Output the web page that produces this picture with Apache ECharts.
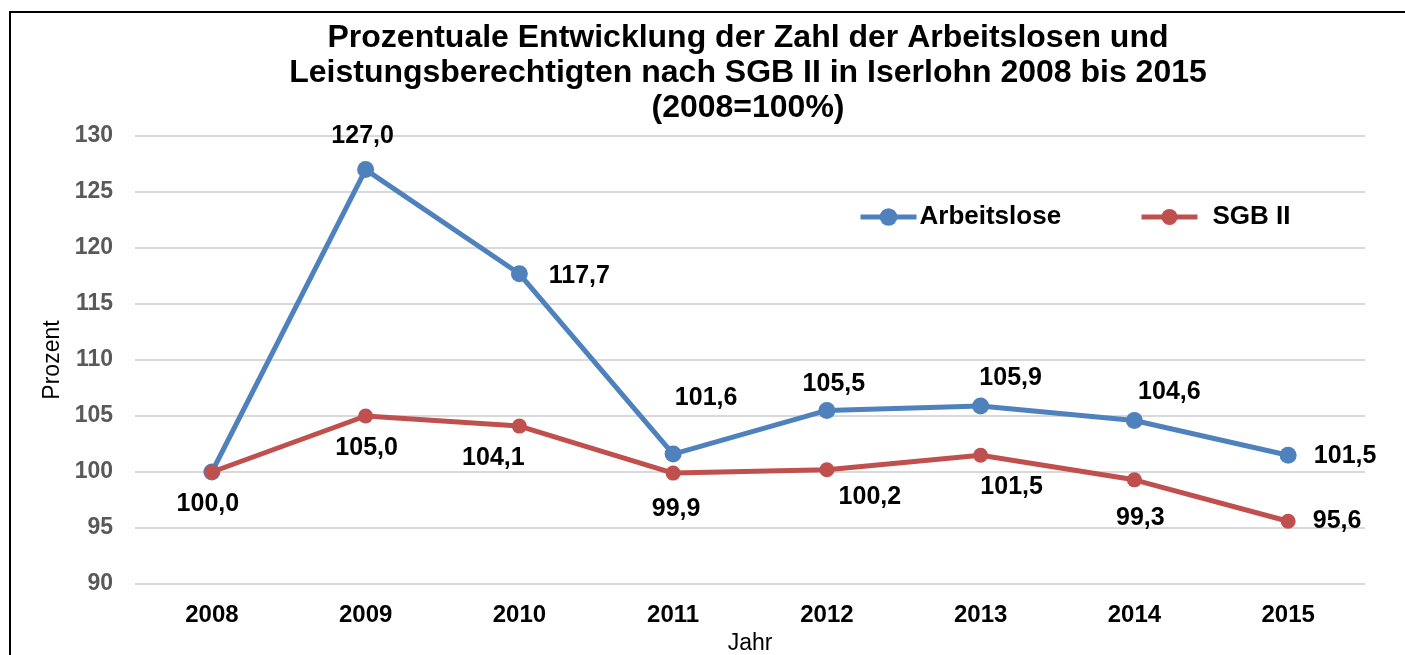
<!DOCTYPE html>
<html>
<head>
<meta charset="utf-8">
<script src="https://cdn.jsdelivr.net/npm/echarts@6/dist/echarts.min.js"></script>
<style>
  html, body { margin: 0; padding: 0; background: #fff; overflow: hidden; }
  #frame { position: absolute; left: 9px; top: 11px; width: 1500px; height: 700px; border: 2px solid #000; box-sizing: border-box; }
  #chart { position: absolute; left: 0; top: 0; width: 1405px; height: 655px; }
</style>
</head>
<body>
<div id="frame"></div>
<div id="chart"></div>
<script>
// Daten
const years = ['2008', '2009', '2010', '2011', '2012', '2013', '2014', '2015'];
const arbeitslose = [100.0, 127.0, 117.7, 101.6, 105.5, 105.9, 104.6, 101.5];
const sgb2 = [100.0, 105.0, 104.1, 99.9, 100.2, 101.5, 99.3, 95.6];

// Beschriftungs-Versatz (wie im Original manuell platziert)
const blueLabelOffsets = [null, [-3, -33], [60, 2], [33, -56], [7, -26], [30, -28], [35, -28], [57, 1]];
const redLabelOffsets = [[-4, 32], [1, 32], [-26, 32], [3, 36], [43, 27], [31, 32], [6, 38], [49, 0]];

const fmt = v => v.toFixed(1).replace('.', ',');

const FONT = 'Liberation Sans';
const labelFont = { color: '#000', fontWeight: 'bold', fontSize: 25, fontFamily: FONT };

function buildData(values, offsets) {
    return values.map((v, i) => {
        const off = offsets[i];
        if (!off) return { value: v, label: { show: false } };
        return {
            value: v,
            label: { show: true, position: 'inside', offset: off, formatter: p => fmt(p.value), ...labelFont }
        };
    });
}

const chart = echarts.init(document.getElementById('chart'));

const option = {
    animation: false,
    title: {
        text: 'Prozentuale Entwicklung der Zahl der Arbeitslosen und\nLeistungsberechtigten nach SGB II in Iserlohn 2008 bis 2015\n(2008=100%)',
        left: 743,
        textAlign: 'center',
        top: 16,
        textStyle: { fontSize: 32, fontWeight: 'bold', color: '#000', fontFamily: FONT, lineHeight: 35 }
    },
    legend: [
        {
            data: ['Arbeitslose'],
            left: 853, top: 199,
            itemWidth: 56, itemHeight: 22, itemGap: 4,
            lineStyle: { width: 5 },
            textStyle: { fontSize: 26, fontWeight: 'bold', color: '#000', fontFamily: FONT, padding: [0, 0, 0, -2] }
        },
        {
            data: ['SGB II'],
            left: 1134, top: 199,
            itemWidth: 56, itemHeight: 20,
            lineStyle: { width: 5 },
            textStyle: { fontSize: 26, fontWeight: 'bold', color: '#000', fontFamily: FONT, padding: [0, 0, 0, 10] }
        }
    ],
    grid: { left: 135, right: 40, top: 136, bottom: 71, outerBoundsMode: 'none' },
    xAxis: {
        type: 'category',
        data: years,
        name: 'Jahr',
        nameLocation: 'middle',
        nameGap: 44,
        nameTextStyle: { fontSize: 23, color: '#000', fontFamily: FONT },
        axisLine: { show: false },
        axisTick: { show: false },
        axisLabel: { margin: 19, fontSize: 24, fontWeight: 'bold', color: '#000', fontFamily: FONT }
    },
    yAxis: {
        type: 'value',
        min: 90, max: 130, interval: 5,
        name: 'Prozent',
        nameLocation: 'middle',
        nameGap: 70,
        nameTextStyle: { fontSize: 23, color: '#000', fontFamily: FONT },
        axisLine: { show: false },
        axisTick: { show: false },
        splitLine: { lineStyle: { color: '#d9d9d9', width: 2 } },
        axisLabel: { margin: 22, fontSize: 23, fontWeight: 'bold', color: '#595959', fontFamily: FONT }
    },
    series: [
        {
            name: 'Arbeitslose',
            type: 'line',
            data: buildData(arbeitslose, blueLabelOffsets),
            symbol: 'circle',
            symbolSize: 17,
            lineStyle: { color: '#4F81BD', width: 5 },
            itemStyle: { color: '#4F81BD' },
            z: 2
        },
        {
            name: 'SGB II',
            type: 'line',
            data: buildData(sgb2, redLabelOffsets),
            symbol: 'circle',
            symbolSize: 15,
            lineStyle: { color: '#C0504D', width: 5 },
            itemStyle: { color: '#C0504D' },
            z: 3
        }
    ]
};

chart.setOption(option);
</script>
</body>
</html>
